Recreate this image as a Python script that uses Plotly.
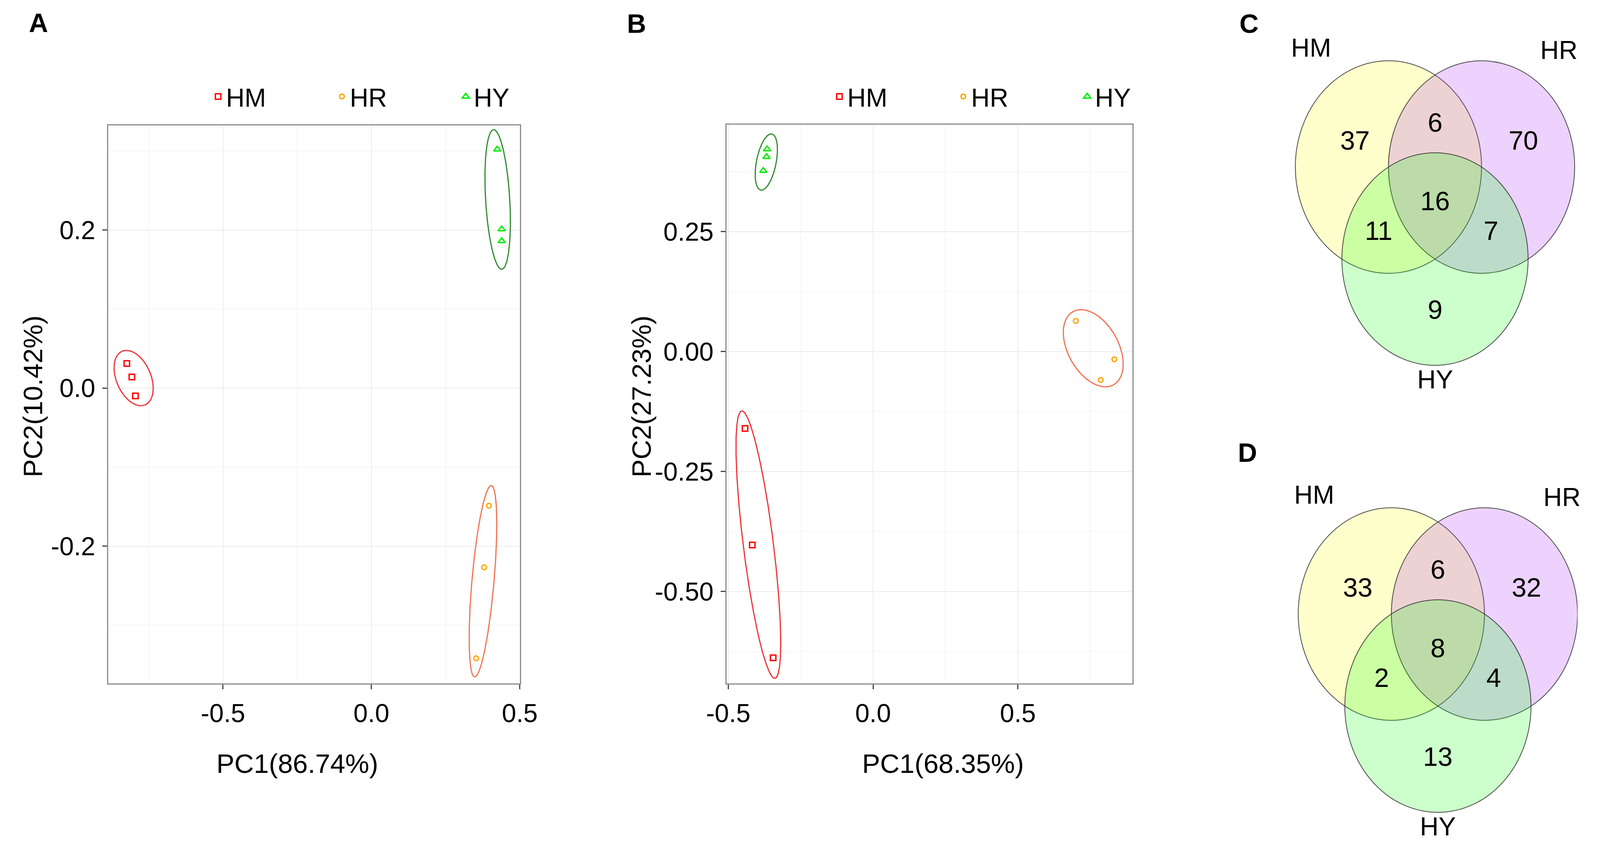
import numpy as np
import plotly.graph_objects as go

# ---- data ----
groups = ["HM", "HR", "HY"]

# panel A, PCA scores
a_hm_pc1 = [-0.824, -0.807, -0.795]
a_hm_pc2 = [0.031, 0.014, -0.010]
a_hr_pc1 = [0.396, 0.380, 0.353]
a_hr_pc2 = [-0.149, -0.227, -0.342]
a_hy_pc1 = [0.424, 0.439, 0.439]
a_hy_pc2 = [0.302, 0.201, 0.186]

# panel B, PCA scores
b_hm_pc1 = [-0.442, -0.417, -0.345]
b_hm_pc2 = [-0.160, -0.403, -0.638]
b_hr_pc1 = [0.700, 0.833, 0.786]
b_hr_pc2 = [0.064, -0.016, -0.059]
b_hy_pc1 = [-0.366, -0.368, -0.379]
b_hy_pc2 = [0.422, 0.406, 0.377]

# group ellipses (order HM, HR, HY): centre, half width, half height, x offset of top point
a_ell_cx = [-0.801, 0.376, 0.4255]
a_ell_cy = [0.0126, -0.2445, 0.2386]
a_ell_w = [0.066, 0.0465, 0.0429]
a_ell_h = [0.035, 0.1211, 0.0883]
a_ell_d = [-0.0244, 0.0277, -0.0135]

b_ell_cx = [-0.3961, 0.7603, -0.3686]
b_ell_cy = [-0.4022, 0.0071, 0.3952]
b_ell_w = [0.0772, 0.1034, 0.0384]
b_ell_h = [0.2786, 0.0804, 0.0586]
b_ell_d = [-0.0567, -0.0423, 0.0168]

a_xtitle, a_ytitle = "PC1(86.74%)", "PC2(10.42%)"
b_xtitle, b_ytitle = "PC1(68.35%)", "PC2(27.23%)"

a_xticks = [-0.5, 0.0, 0.5]
a_xticktext = ["-0.5", "0.0", "0.5"]
a_yticks = [-0.2, 0.0, 0.2]
a_yticktext = ["-0.2", "0.0", "0.2"]
b_xticks = [-0.5, 0.0, 0.5]
b_xticktext = ["-0.5", "0.0", "0.5"]
b_yticks = [-0.5, -0.25, 0.0, 0.25]
b_yticktext = ["-0.50", "-0.25", "0.00", "0.25"]

# Venn counts: HM only, HR only, HY only, HM&HR, HM&HY, HR&HY, all three
venn_c_counts = [37, 70, 9, 6, 11, 7, 16]
venn_d_counts = [33, 32, 13, 6, 2, 4, 8]

# ---- styling / layout ----
# positions below are measured on a 4562x2160 canvas and turned into paper fractions;
# the browser viewport is only 4096 wide, so the figure is drawn at that size
REF_W, REF_H = 4562, 2160
FIG_W, FIG_H = 4096, 2160
FONT = "Liberation Sans, Arial, sans-serif"
marker_sym = {"HM": "square-open", "HR": "circle-open", "HY": "triangle-up-open"}
marker_col = {"HM": "#FF0000", "HR": "#FFA500", "HY": "#00EE00"}
marker_size = {"HM": 14, "HR": 12, "HY": 16}
ell_col = {"HM": "#EE3035", "HR": "#F2714F", "HY": "#2E8B2E"}
venn_fill = ["rgba(255,255,0,0.2)", "rgba(160,32,240,0.2)", "rgba(0,255,0,0.2)"]
venn_centres = [(-0.5, 0.2887), (0.5, 0.2887), (0.0, -0.5774)]
venn_label_pos = [(-1.33, 1.41), (1.33, 1.39), (0.0, -1.71)]
region_pos = [(-0.86, 0.54), (0.95, 0.54), (0.0, -1.05), (0.0, 0.71),
              (-0.605, -0.31), (0.6, -0.31), (0.0, -0.03)]
VENN_R = 272


def px_x(x):
    return x / REF_W


def px_y(y):
    return 1 - y / REF_H


def ellipse_path(cx, cy, w, h, d, n=240):
    t = np.linspace(0, 2 * np.pi, n)
    k = np.sqrt(max(w ** 2 - d ** 2, 0.0))
    return cx + d * np.cos(t) + k * np.sin(t), cy + h * np.cos(t)


fig = go.Figure()

panels = [
    ("x", "y", "legend", [(a_hm_pc1, a_hm_pc2), (a_hr_pc1, a_hr_pc2), (a_hy_pc1, a_hy_pc2)],
     (a_ell_cx, a_ell_cy, a_ell_w, a_ell_h, a_ell_d)),
    ("x2", "y2", "legend2", [(b_hm_pc1, b_hm_pc2), (b_hr_pc1, b_hr_pc2), (b_hy_pc1, b_hy_pc2)],
     (b_ell_cx, b_ell_cy, b_ell_w, b_ell_h, b_ell_d)),
]
for xa, ya, leg, pts, ell in panels:
    for i, g in enumerate(groups):
        ex, ey = ellipse_path(ell[0][i], ell[1][i], ell[2][i], ell[3][i], ell[4][i])
        fig.add_trace(go.Scatter(x=ex, y=ey, mode="lines", xaxis=xa, yaxis=ya,
                                 line=dict(color=ell_col[g], width=3),
                                 showlegend=False, hoverinfo="skip"))
    for i, g in enumerate(groups):
        fig.add_trace(go.Scatter(
            x=pts[i][0], y=pts[i][1], mode="markers", name=g,
            xaxis=xa, yaxis=ya, legend=leg,
            marker=dict(symbol=marker_sym[g], color=marker_col[g], size=marker_size[g],
                        line=dict(width=3.5, color=marker_col[g]))))


def pca_axis(domain, rng, tickvals, ticktext, minor_vals, anchor):
    return dict(domain=domain, range=rng, anchor=anchor, tickmode="array",
                tickvals=tickvals, ticktext=ticktext, ticks="outside", ticklen=12,
                tickwidth=3, tickcolor="#444444", showline=True, linecolor="#8C8C8C",
                linewidth=3, mirror=True, showgrid=True, gridcolor="#EBEBEB", gridwidth=2,
                zeroline=False, ticklabelstandoff=5,
                tickfont=dict(family=FONT, size=66, color="black"),
                minor=dict(tickmode="array", tickvals=minor_vals, showgrid=True,
                           gridcolor="#F5F5F5", gridwidth=2, ticks=""))


layout = dict(
    width=FIG_W, height=FIG_H, margin=dict(l=0, r=0, t=0, b=0),
    paper_bgcolor="white", plot_bgcolor="white",
    font=dict(family=FONT, size=66, color="black"),
    xaxis=pca_axis([px_x(257), px_x(1459)], [-0.8864, 0.5], a_xticks, a_xticktext,
                   [-0.75, -0.25, 0.25], "y"),
    yaxis=pca_axis([px_y(1749), px_y(321)], [-0.3738, 0.3323], a_yticks, a_yticktext,
                   [-0.3, -0.1, 0.1, 0.3], "x"),
    xaxis2=pca_axis([px_x(2063), px_x(3249)], [-0.5059, 0.8960], b_xticks, b_xticktext,
                    [-0.25, 0.25, 0.75], "y2"),
    yaxis2=pca_axis([px_y(1749), px_y(319)], [-0.6914, 0.4731], b_yticks, b_yticktext,
                    [-0.625, -0.375, -0.125, 0.125, 0.375], "x2"),
    legend=dict(orientation="h", x=px_x(555), y=px_y(247), xanchor="left", yanchor="middle",
                font=dict(size=66), entrywidth=272, bgcolor="rgba(0,0,0,0)"),
    legend2=dict(orientation="h", x=px_x(2370), y=px_y(247), xanchor="left", yanchor="middle",
                 font=dict(size=66), entrywidth=272, bgcolor="rgba(0,0,0,0)"),
)

# Venn panels on their own hidden axes, one unit = one circle radius
venn_panels = [("x3", "y3", (4132.5, 506), [-1.6, 1.55], [-2.05, 1.65], venn_c_counts),
               ("x4", "y4", (4141, 1650), [-1.6, 1.5], [-1.85, 1.65], venn_d_counts)]
shapes, annotations = [], []
for n, (xa, ya, (cpx, cpy), xr, yr, counts) in enumerate(venn_panels):
    ax_hidden = dict(visible=False, showgrid=False, zeroline=False, fixedrange=True)
    layout["xaxis%d" % (n + 3)] = dict(ax_hidden, range=xr, anchor=ya,
                                       domain=[px_x(cpx + xr[0] * VENN_R), px_x(cpx + xr[1] * VENN_R)])
    layout["yaxis%d" % (n + 3)] = dict(ax_hidden, range=yr, anchor=xa,
                                       domain=[px_y(cpy - yr[0] * VENN_R), px_y(cpy - yr[1] * VENN_R)])
    for (cx, cy), fill in zip(venn_centres, venn_fill):
        shapes.append(dict(type="circle", xref=xa, yref=ya, x0=cx - 1, x1=cx + 1,
                           y0=cy - 1, y1=cy + 1, fillcolor=fill,
                           line=dict(color="rgba(30,30,30,0.8)", width=2), layer="above"))
    for name, (lx, ly) in zip(groups, venn_label_pos):
        annotations.append(dict(xref=xa, yref=ya, x=lx, y=ly, text=name, showarrow=False,
                                font=dict(size=66), xanchor="center", yanchor="middle"))
    for cnt, (rx, ry) in zip(counts, region_pos):
        annotations.append(dict(xref=xa, yref=ya, x=rx, y=ry, text=str(cnt), showarrow=False,
                                font=dict(size=68), xanchor="center", yanchor="middle"))

# axis titles
for txt, x, y, ang in [(a_xtitle, 809, 1954, 0), (a_ytitle, 36, 1015, -90),
                       (b_xtitle, 2695, 1954, 0), (b_ytitle, 1814, 1015, -90)]:
    annotations.append(dict(xref="paper", yref="paper", x=px_x(x), y=px_y(y), text=txt,
                            textangle=ang, showarrow=False, font=dict(size=69),
                            xanchor="center", yanchor="middle"))

# panel letters
for txt, x, y in [("A", 53, 58), ("B", 1800, 60), ("C", 3589, 60), ("D", 3585, 1158)]:
    annotations.append(dict(xref="paper", yref="paper", x=px_x(x), y=px_y(y),
                            text="<b>%s</b>" % txt, showarrow=False,
                            font=dict(size=68, family=FONT),
                            xanchor="center", yanchor="middle"))

layout["shapes"] = shapes
layout["annotations"] = annotations
fig.update_layout(**layout)

# drop the default page margin, and shrink only if the viewport turns out smaller
fit_js = """
document.body.style.margin = '0';
document.body.style.overflow = 'hidden';
var gd = document.getElementById('{plot_id}');
var s = Math.min(1, window.innerWidth / %d, window.innerHeight / %d);
gd.style.transformOrigin = '0 0';
gd.style.transform = 'scale(' + s + ')';
""" % (FIG_W, FIG_H)
fig.write_html("out.html", post_script=fit_js, config={"displayModeBar": False})
